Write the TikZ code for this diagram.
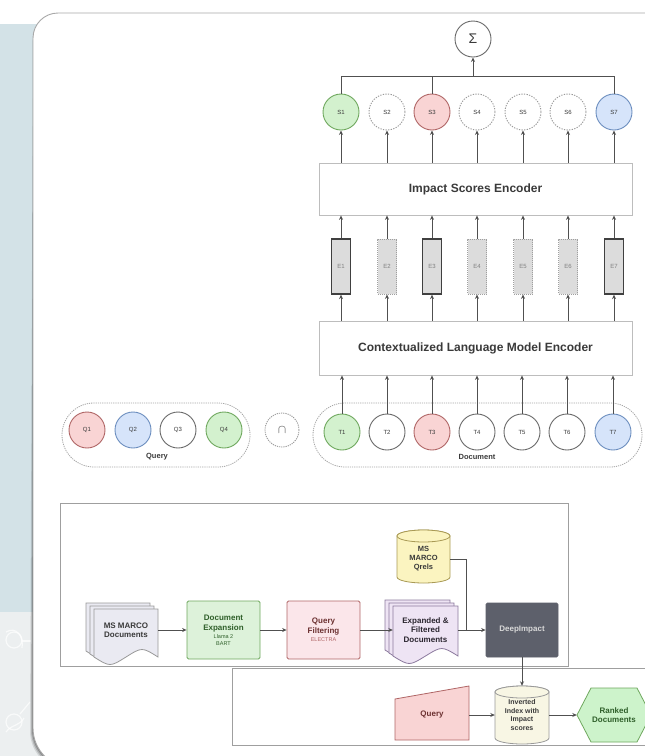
\documentclass[tikz,border=0pt]{standalone}
\usepackage{fontspec}
\setmainfont{Liberation Sans}
\usetikzlibrary{arrows.meta}

\definecolor{bgblue}{HTML}{D3E2E7}
\definecolor{bggray}{HTML}{ECEFF0}
\definecolor{cardD}{HTML}{A8A8A8}
\definecolor{greenF}{HTML}{D3F1CE}
\definecolor{greenD}{HTML}{6FA85E}
\definecolor{pinkF}{HTML}{F9D4D4}
\definecolor{pinkD}{HTML}{B06666}
\definecolor{blueF}{HTML}{D6E4FA}
\definecolor{blueD}{HTML}{6C8EBF}
\definecolor{lineC}{HTML}{505050}
\definecolor{tokD}{HTML}{6A6A6A}
\definecolor{txtC}{HTML}{3A3A3A}
\definecolor{boxD}{HTML}{BDBDBD}
\definecolor{eF}{HTML}{DCDCDC}
\definecolor{docF}{HTML}{EAEAF2}
\definecolor{lavF}{HTML}{EEE4F4}
\definecolor{lavD}{HTML}{8C7A9E}
\definecolor{yelF}{HTML}{FBF4C0}
\definecolor{yelD}{HTML}{A99A55}
\definecolor{deepF}{HTML}{5D606B}
\definecolor{ivoryF}{HTML}{F8F6E4}
\definecolor{rankF}{HTML}{CDF3CB}
\definecolor{expF}{HTML}{DDF2DA}
\definecolor{filF}{HTML}{FBE6EA}
\definecolor{greenT}{HTML}{2F5F2A}
\definecolor{redT}{HTML}{6B3030}

% stacked-paper sheet with a wavy lower edge: x0 y0 x1 y1 style
\newcommand\docsheet[5]{%
  \path[#5] (#1,#2) -- (#3,#2) -- (#3,{#4-6})
    .. controls ({#1+0.75*(#3-#1)},{#4-16}) .. ({#1+0.5*(#3-#1)},{#4-6})
    .. controls ({#1+0.25*(#3-#1)},{#4+4}) .. (#1,{#4-6}) -- cycle;}
% database drum: centre x, top y, bottom y, x radius, y radius, style
\newcommand\tubeshape[6]{%
  \path[#6] ({#1-#4},{#2+#5}) -- ({#1-#4},{#3-#5})
    arc[start angle=180,end angle=360,x radius=#4pt,y radius=#5pt]
    -- ({#1+#4},{#2+#5})
    arc[start angle=0,end angle=180,x radius=#4pt,y radius=#5pt] -- cycle;
  \path[#6] (#1,{#2+#5}) ellipse[x radius=#4pt,y radius=#5pt];}
\newcommand\minitext{\fontsize{5.5}{6.5}\selectfont\mdseries}

\tikzset{
  arr/.style={draw=lineC, line width=0.8pt, -{Stealth[length=4.5pt,width=4pt]}},
  wire/.style={draw=lineC, line width=0.8pt},
  tok/.style={circle, minimum size=36pt, inner sep=0pt, line width=0.9pt,
    fill=white, draw=tokD, text=txtC, font=\fontsize{6}{7}\selectfont},
  tokg/.style={tok, fill=greenF, draw=greenD},
  tokp/.style={tok, fill=pinkF, draw=pinkD},
  tokb/.style={tok, fill=blueF, draw=blueD},
  tokw/.style={tok},
  tokd/.style={tok, draw=gray!80, dash pattern=on 1.3pt off 1.3pt},
  encbox/.style={draw=boxD, line width=0.8pt, fill=white, minimum width=313pt,
    inner sep=0pt, font=\fontsize{12}{14}\selectfont\bfseries, text=txtC},
  emb/.style={minimum width=19pt, minimum height=55pt, inner sep=0pt, fill=eF,
    font=\fontsize{6}{7}\selectfont, text=gray},
  embs/.style={emb, draw=black!75, line width=1.3pt},
  embd/.style={emb, draw=gray!75, line width=0.8pt, dash pattern=on 1pt off 1pt},
  group/.style={draw=gray!70, line width=0.8pt, dash pattern=on 1.2pt off 1pt,
    rounded corners=32pt},
  grouplabel/.style={font=\fontsize{7.5}{9}\selectfont\bfseries, text=txtC},
  frame/.style={draw=gray!75, line width=1pt},
  ptxt/.style={align=center, inner sep=0pt, font=\fontsize{8}{9.5}\selectfont\bfseries, text=txtC},
  pbox/.style={ptxt, line width=0.8pt, minimum width=73pt, minimum height=58pt,
    inner sep=1pt, rounded corners=1.5pt},
}

\begin{document}
\begin{tikzpicture}[x=1pt,y=-1pt]
\useasboundingbox (0,0) rectangle (645,756);
\clip (0,0) rectangle (645,756);

% page background
\fill[white] (0,0) rectangle (645,756);
\fill[bgblue] (0,24) rectangle (80,612);
\fill[bggray] (0,612) rectangle (80,756);
\begin{scope}[white, opacity=0.7, line width=1.2pt]
  \draw (14,640) circle[radius=8pt];
  \draw (6,632) .. controls (16,626) and (24,636) .. (22,648);
  \draw (22,641) -- (31,641);
  \draw (14,722) circle[radius=8pt];
  \draw (20,714) -- (30,702);
  \draw (6,732) .. controls (12,724) and (20,726) .. (24,718);
\end{scope}

% card with soft shadow
\foreach \o/\op in {3/0.10,2/0.16,1/0.22}{
  \fill[black, opacity=\op] ({720},{13+\o}) -- ({58},{13+\o})
    arc[start angle=90,end angle=180,radius=25pt] -- ({33-\o},{728+\o})
    arc[start angle=180,end angle=270,radius=40pt] -- (720,{768+\o}) -- cycle;}
\path[fill=white, draw=cardD, line width=0.9pt] (720,13) -- (58,13)
  arc[start angle=90,end angle=180,radius=25pt] -- (33,728)
  arc[start angle=180,end angle=270,radius=40pt] -- (720,768) -- cycle;

% ---------- upper architecture ----------
\node[tok, minimum size=36pt, font=\fontsize{14}{16}\selectfont] (sig) at (473,39) {Σ};

\foreach \i/\x/\st in {1/341/tokg,2/387/tokd,3/432/tokp,4/477/tokd,5/523/tokd,6/568/tokd,7/614/tokb}
  \node[\st] (s\i) at (\x,112) {S\i};

\node[encbox, minimum height=52pt] (imp) at (475.5,189) {Impact Scores Encoder};

\foreach \i/\x/\st in {1/341/embs,2/387/embd,3/432/embs,4/477/embd,5/523/embd,6/568/embd,7/614/embs}
  \node[\st] (e\i) at (\x,266.5) {E\i};

\node[encbox, minimum height=54pt] (ctx) at (475.5,348) {Contextualized Language Model Encoder};

% query and document groups
\draw[group] (62,403) rectangle (250,467);
\draw[group] (313,403) rectangle (642,467);
\node[grouplabel] (qlab) at (157,457) {Query};
\node[grouplabel] (dlab) at (477,457) {Document};

\foreach \i/\x/\st in {1/87/tokp,2/133/tokb,3/178/tokw,4/224/tokg}
  \node[\st] (q\i) at (\x,430) {Q\i};

\node[tok, minimum size=34pt, draw=gray!80, dash pattern=on 1.2pt off 1pt,
  font=\fontsize{13}{15}\selectfont] (cap) at (282,430) {$\cap$};

\foreach \i/\x/\st in {1/342/tokg,2/387/tokw,3/432/tokp,4/477/tokw,5/522/tokw,6/567/tokw,7/613/tokb}
  \node[\st] (t\i) at (\x,432) {T\i};

% score aggregation
\coordinate (jsum) at (473,76);
\draw[wire] (s1.north) |- (s7.north |- jsum) -- (s7.north);
\draw[wire] (s3.north) -- (s3.north |- jsum);
\draw[arr] (jsum) -- (sig.south);

\foreach \i in {1,...,7}{
  \draw[arr] (s\i |- imp.north) -- (s\i.south);
  \draw[arr] (e\i.north) -- (e\i |- imp.south);
  \draw[arr] (e\i |- ctx.north) -- (e\i.south);
  \draw[arr] (t\i.north) -- (t\i |- ctx.south);
}

% ---------- indexing and retrieval pipeline ----------
\draw[frame] (60,503) rectangle (568,666);
\draw[frame] (232,668) rectangle (660,745);

% MS MARCO documents (stack)
\docsheet{86}{603}{150}{657}{fill=docF, draw=gray!80, line width=0.8pt}
\docsheet{90}{606}{154}{660}{fill=docF, draw=gray!80, line width=0.8pt}
\docsheet{94}{609}{158}{663}{fill=docF, draw=gray!80, line width=0.8pt}
\node[ptxt, minimum width=64pt, minimum height=44pt] (msd) at (126,630) {MS MARCO\\Documents};

\node[pbox, fill=expF, draw=greenD, text=greenT] (dex) at (223.5,630)
  {Document\\Expansion\\[-1pt]{\minitext Llama 2}\\[-3pt]{\minitext BART}};

\node[pbox, fill=filF, draw=pinkD, text=redT] (qfl) at (323.5,630)
  {Query\\Filtering\\[-1pt]{\minitext\color{pinkD}ELECTRA}};

% expanded and filtered documents (stack)
\docsheet{385}{600}{450}{656}{fill=lavF, draw=lavD, line width=0.8pt}
\docsheet{389}{603}{454}{659}{fill=lavF, draw=lavD, line width=0.8pt}
\docsheet{393}{606}{458}{662}{fill=lavF, draw=lavD, line width=0.8pt}
\node[ptxt, minimum width=65pt, minimum height=44pt, text=black!70!lavD] (exd) at (425.5,630)
  {Expanded \&\\Filtered\\Documents};

% relevance judgements
\tubeshape{423.5}{530}{583}{26.5}{6}{fill=yelF, draw=yelD, line width=0.8pt}
\node[ptxt, font=\fontsize{7.5}{9}\selectfont\bfseries, minimum width=53pt, minimum height=53pt] (qrl) at (423.5,559)
  {MS\\MARCO\\Qrels};

\node[pbox, fill=deepF, draw=deepF, minimum width=72pt, minimum height=54pt,
  text=white!85!black] (deep) at (522,630) {DeepImpact};

% index and retrieval
\tubeshape{522}{686}{744}{27}{6}{fill=ivoryF, draw=gray!80, line width=0.8pt}
\node[ptxt, font=\fontsize{7}{8.5}\selectfont\bfseries, minimum width=54pt, minimum height=58pt] (inv) at (522,715)
  {Inverted\\Index with\\Impact\\scores};

\path[fill=pinkF, draw=pinkD, line width=0.8pt] (395,699) -- (469,686) -- (469,740) -- (395,740) -- cycle;
\node[ptxt, text=redT, minimum width=74pt, minimum height=54pt] (qry) at (432,715) {Query};

\path[fill=rankF, draw=greenD, line width=0.8pt] (577,715) -- (591,688) -- (637,688) -- (651,715) -- (637,742) -- (591,742) -- cycle;
\node[ptxt, text=greenT, minimum width=74pt, minimum height=54pt] (rnk) at (614,715) {Ranked\\Documents};

% pipeline connectors
\coordinate (jq) at (466,630);
\draw[arr] (msd.east) -- (dex.west);
\draw[arr] (dex.east) -- (qfl.west);
\draw[arr] (qfl.east) -- (exd.west);
\draw[arr] (exd.east) -- (deep.west);
\draw[wire] (qrl.east) -| (jq);
\draw[arr] (deep.south) -- (inv.north);
\draw[arr] (qry.east) -- (inv.west);
\draw[arr] (inv.east) -- (rnk.west);
\end{tikzpicture}
\end{document}
